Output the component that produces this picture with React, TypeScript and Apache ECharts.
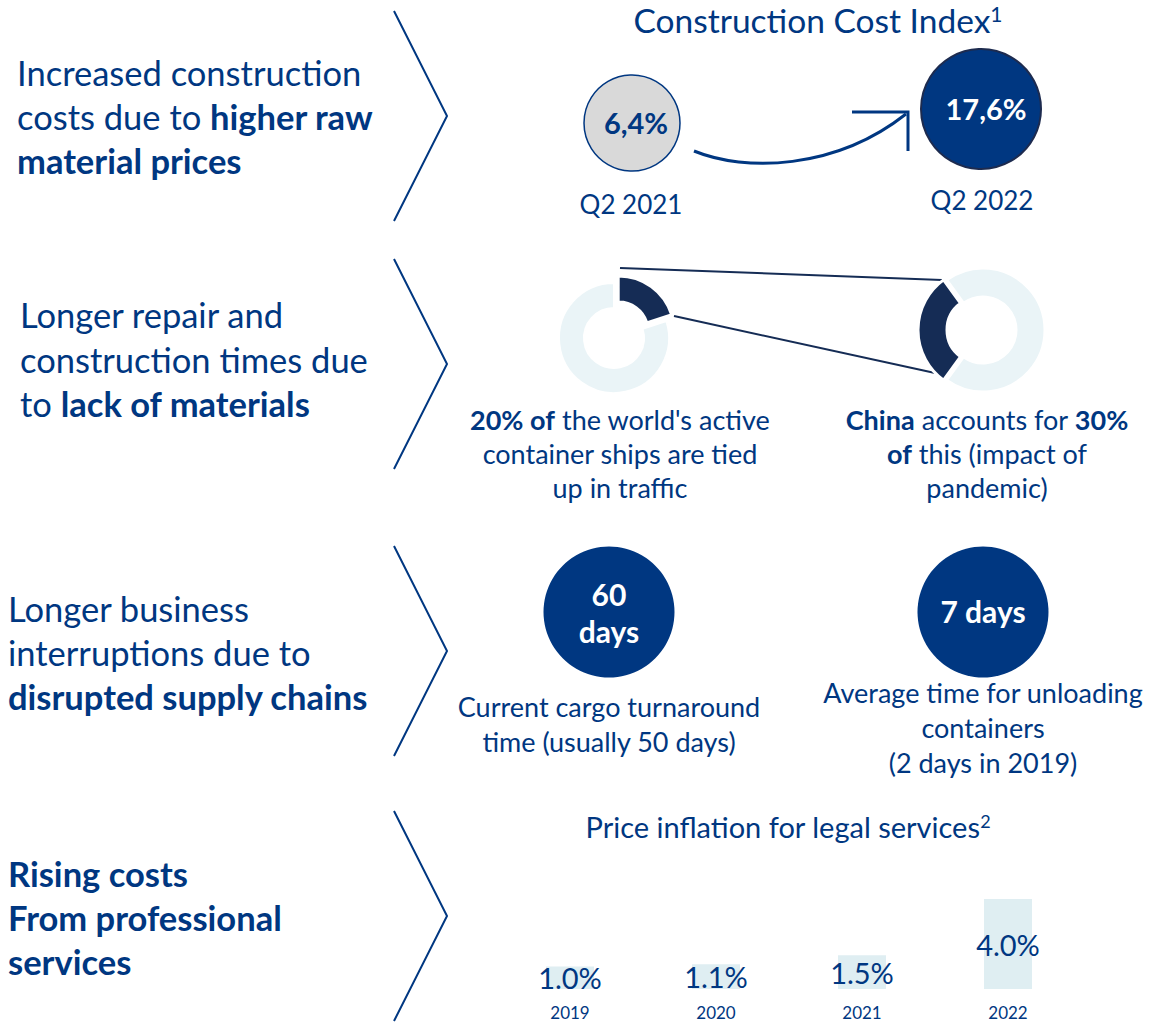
import React, { useEffect, useRef } from "react";
import * as echarts from "echarts";

// ---------- data ----------
const costIndexPeriods = ["Q2 2021", "Q2 2022"];
const costIndexValues = ["6,4%", "17,6%"];
const shipsTiedUp = [20, 80]; // % of active container ships tied up vs rest
const chinaShare = [30, 70]; // China's share of the tied-up ships vs rest
const cargoTurnaroundDays = "60";
const unloadingDays = "7";
const legalYears = ["2019", "2020", "2021", "2022"];
const legalInflation = [1.0, 1.1, 1.5, 4.0];

// ---------- styles ----------
const BLUE = "#003781";
const NAVY = "#152c55";
const LIGHT = "#eaf4f7";
const BAR = "#dfeef2";
const FONT = "Lato, 'Open Sans', sans-serif";

function txt(
  x: number,
  y: number,
  text: string,
  size: number,
  opts: { bold?: boolean; align?: string; fill?: string } = {}
) {
  const fill = opts.fill || BLUE;
  const align = opts.align || "left";
  return {
    type: "text",
    x,
    y,
    silent: true,
    style: {
      text,
      fill,
      fontSize: size,
      fontFamily: FONT,
      fontWeight: opts.bold ? "bold" : "normal",
      align,
      verticalAlign: "middle",
      textAlign: align,
      textVerticalAlign: "middle",
      rich: {
        b: { fontSize: size, fontFamily: FONT, fontWeight: "bold", fill, color: fill },
        n: { fontSize: size, fontFamily: FONT, fontWeight: "normal", fill, color: fill },
        sup: {
          fontSize: Math.round(size * 0.62),
          fontFamily: FONT,
          fontWeight: "normal",
          fill,
          color: fill,
          verticalAlign: "top",
          align: "left",
        },
      },
    },
  };
}

function chevron(top: number) {
  return {
    type: "polyline",
    silent: true,
    shape: { points: [[394, top], [447, top + 105], [394, top + 210]] },
    style: { stroke: BLUE, lineWidth: 2, fill: null },
  };
}

export default function App() {
  const ref = useRef<HTMLDivElement>(null);

  useEffect(() => {
    document.body.style.margin = "0";
    if (!ref.current) return;
    const chart = echarts.init(ref.current, null, { renderer: "svg" });

    const L = 34.5; // left-hand text size
    const S = 27; // small text size

    const graphic: any[] = [
      // chevrons
      chevron(11),
      chevron(259),
      chevron(546),
      chevron(811),

      // left texts
      txt(17, 72, "Increased construction", L),
      txt(17, 116, "{n|costs due to }{b|higher raw}", L),
      txt(17, 160, "material prices", L, { bold: true }),

      txt(20, 314, "Longer repair and", L),
      txt(20, 359, "construction times due", L),
      txt(20, 403, "{n|to }{b|lack of materials}", L),

      txt(8, 608, "Longer business", L),
      txt(8, 652, "interruptions due to", L),
      txt(8, 696, "disrupted supply chains", L, { bold: true }),

      txt(8, 873, "Rising costs", L, { bold: true }),
      txt(8, 917, "From professional", L, { bold: true }),
      txt(8, 961, "services", L, { bold: true }),

      // section 1: construction cost index
      txt(818, 20, "{n|Construction Cost Index}{sup|1}", 33.5, { align: "center" }),
      {
        type: "circle",
        silent: true,
        shape: { cx: 632, cy: 123, r: 48 },
        style: { fill: "#d9d9d9", stroke: BLUE, lineWidth: 1.5 },
      },
      txt(636, 122, costIndexValues[0], 29, { bold: true, align: "center" }),
      {
        type: "circle",
        silent: true,
        shape: { cx: 981, cy: 109, r: 60 },
        style: { fill: BLUE, stroke: "#1d2b4f", lineWidth: 2 },
      },
      txt(986, 108, costIndexValues[1], 29, { bold: true, align: "center", fill: "#ffffff" }),
      txt(631, 204, costIndexPeriods[0], 26, { align: "center" }),
      txt(982, 200, costIndexPeriods[1], 26, { align: "center" }),
      {
        type: "bezierCurve",
        silent: true,
        shape: { x1: 694, y1: 151, cpx1: 745, cpy1: 172, cpx2: 835, cpy2: 170, x2: 906, y2: 114 },
        style: { stroke: BLUE, lineWidth: 3, fill: null },
      },
      {
        type: "polyline",
        silent: true,
        shape: { points: [[852, 112], [908, 112], [908, 151]] },
        style: { stroke: BLUE, lineWidth: 3, fill: null },
      },

      // section 2: connector lines
      {
        type: "line",
        silent: true,
        shape: { x1: 620, y1: 268, x2: 942, y2: 280 },
        style: { stroke: NAVY, lineWidth: 2 },
      },
      {
        type: "line",
        silent: true,
        shape: { x1: 674, y1: 316, x2: 935, y2: 373 },
        style: { stroke: NAVY, lineWidth: 2 },
      },
      txt(620, 419, "{b|20% of}{n| the world's active}", S, { align: "center" }),
      txt(620, 453, "container ships are tied", S, { align: "center" }),
      txt(620, 487, "up in traffic", S, { align: "center" }),
      txt(987, 419, "{b|China}{n| accounts for }{b|30%}", S, { align: "center" }),
      txt(987, 453, "{b|of}{n| this (impact of}", S, { align: "center" }),
      txt(987, 487, "pandemic)", S, { align: "center" }),

      // section 3: circles
      {
        type: "circle",
        silent: true,
        shape: { cx: 609, cy: 612, r: 65.5 },
        style: { fill: BLUE },
      },
      txt(609, 594, cargoTurnaroundDays, 30, { bold: true, align: "center", fill: "#ffffff" }),
      txt(609, 631, "days", 30, { bold: true, align: "center", fill: "#ffffff" }),
      {
        type: "circle",
        silent: true,
        shape: { cx: 983, cy: 612, r: 65.5 },
        style: { fill: BLUE },
      },
      txt(983, 611, unloadingDays + " days", 30, { bold: true, align: "center", fill: "#ffffff" }),
      txt(609, 706, "Current cargo turnaround", S, { align: "center" }),
      txt(609, 741, "time (usually 50 days)", S, { align: "center" }),
      txt(983, 692, "Average time for unloading", S, { align: "center" }),
      txt(983, 727, "containers", S, { align: "center" }),
      txt(983, 762, "(2 days in 2019)", S, { align: "center" }),

      // section 4 title
      txt(788, 826, "{n|Price inflation for legal services}{sup|2}", 29, { align: "center" }),
    ];

    chart.setOption({
      animation: false,
      backgroundColor: "#ffffff",
      textStyle: { fontFamily: FONT },
      grid: { left: 497, width: 584, top: 899, height: 90, containLabel: false },
      xAxis: {
        type: "category",
        data: legalYears,
        axisLine: { show: false },
        axisTick: { show: false },
        splitLine: { show: false },
        axisLabel: { color: BLUE, fontSize: 17, fontFamily: FONT, margin: 15 },
      },
      yAxis: { type: "value", min: 0, max: 4, show: false, splitLine: { show: false } },
      graphic,
      series: [
        {
          type: "bar",
          data: legalInflation,
          barWidth: 48,
          silent: true,
          itemStyle: { color: BAR },
          label: {
            show: true,
            position: "inside",
            color: BLUE,
            fontSize: 29,
            fontFamily: FONT,
            formatter: (p: any) => Number(p.value).toFixed(1) + "%",
          },
        },
        {
          type: "pie",
          center: [614, 338],
          radius: [30, 55],
          startAngle: 90,
          clockwise: true,
          silent: true,
          selectedMode: "single",
          selectedOffset: 8,
          label: { show: false },
          labelLine: { show: false },
          emphasis: { disabled: true },
          itemStyle: { borderColor: "#ffffff", borderWidth: 2 },
          data: [
            { value: shipsTiedUp[0], name: "tied up", selected: true, itemStyle: { color: NAVY } },
            { value: shipsTiedUp[1], name: "other", itemStyle: { color: LIGHT } },
          ],
        },
        {
          type: "pie",
          center: [983, 330],
          radius: [33, 62],
          startAngle: 234,
          clockwise: true,
          silent: true,
          selectedMode: "single",
          selectedOffset: 3,
          label: { show: false },
          labelLine: { show: false },
          emphasis: { disabled: true },
          itemStyle: { borderColor: "#ffffff", borderWidth: 3 },
          data: [
            { value: chinaShare[0], name: "China", selected: true, itemStyle: { color: NAVY } },
            { value: chinaShare[1], name: "rest", itemStyle: { color: LIGHT } },
          ],
        },
      ],
    });

    return () => chart.dispose();
  }, []);

  return <div ref={ref} style={{ width: 1150, height: 1022 }} />;
}
